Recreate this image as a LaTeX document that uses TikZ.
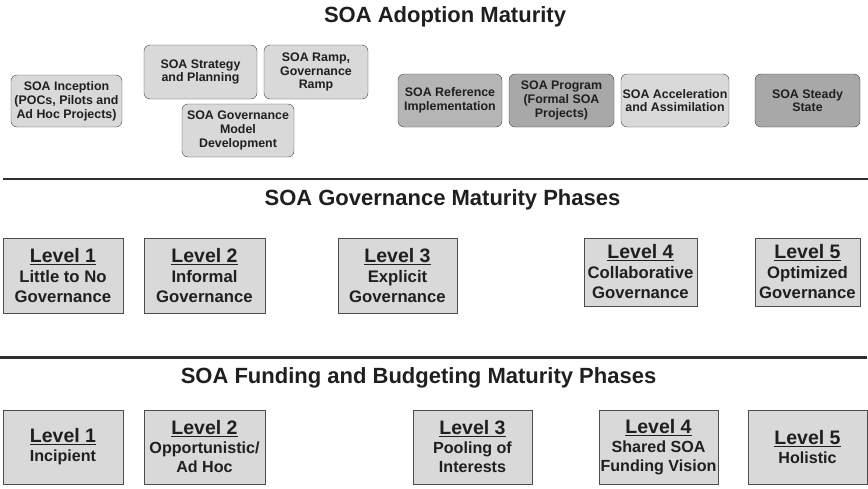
\documentclass[tikz,border=0pt]{standalone}
\usepackage{fontspec}
\setmainfont{Liberation Sans}

\begin{document}
\begin{tikzpicture}
            [x=1pt, y=-1pt, text=black!88,
             stage/.style={draw=black!75, fill=black!15, rounded corners=6pt, align=center, inner sep=1pt,
                           font=\bfseries\fontsize{12.4}{13.8}\selectfont},
             darkstage/.style={stage, fill=black!32},
             level/.style={draw=black!70, fill=black!15, align=center, inner sep=1pt,
                           font=\bfseries\fontsize{16.7}{20}\selectfont},
             fund/.style={level, font=\bfseries\fontsize{16.1}{19}\selectfont},
             heading/.style={font=\bfseries\fontsize{22}{26}\selectfont},
             rule/.style={draw=black!82, line width=2.5pt}]
            \useasboundingbox (0, 0) rectangle (868, 488);

            % adoption maturity
            \node[heading] (adopt) at (445, 17) {SOA Adoption Maturity};
            \node[stage, minimum width=111pt, minimum height=52pt] (incep) at (66.5, 101) {SOA Inception\\(POCs, Pilots and\\Ad Hoc Projects)};
            \node[stage, minimum width=113pt, minimum height=54pt] (strat) at (200.5, 72) {SOA Strategy\\and Planning};
            \node[stage, minimum width=104pt, minimum height=54pt] (ramp) at (316, 72) {SOA Ramp,\\Governance\\Ramp};
            \node[stage, minimum width=112pt, minimum height=53pt] (govmod) at (238, 130.5) {SOA Governance\\Model\\Development};
            \node[darkstage, fill=black!29, minimum width=104pt, minimum height=53pt] (refimpl) at (450, 100.5) {SOA Reference\\Implementation};
            \node[darkstage, fill=black!34, minimum width=105pt, minimum height=53pt] (prog) at (561.5, 100.5) {SOA Program\\(Formal SOA\\Projects)};
            \node[stage, minimum width=108pt, minimum height=53pt] (accel) at (675, 100.5) {SOA Acceleration\\and Assimilation};
            \node[darkstage, fill=black!34, minimum width=105pt, minimum height=53pt] (steady) at (807.5, 100.5) {SOA Steady\\State};

            \draw[rule] (3, 179) -- (868, 179);

            % governance maturity
            \node[heading] (govern) at (442.5, 200) {SOA Governance Maturity Phases};
            \node[level, minimum width=120pt, minimum height=75pt] (g1) at (63, 275.5) {{\fontsize{19.5}{20}\selectfont\underline{Level 1}}\\Little to No\\Governance};
            \node[level, minimum width=121pt, minimum height=75pt] (g2) at (204.5, 275.5) {{\fontsize{19.5}{20}\selectfont\underline{Level 2}}\\Informal\\Governance};
            \node[level, minimum width=119pt, minimum height=75pt] (g3) at (397.5, 275.5) {{\fontsize{19.5}{20}\selectfont\underline{Level 3}}\\Explicit\\Governance};
            \node[level, minimum width=113pt, minimum height=68pt] (g4) at (640.5, 272) {{\fontsize{19.5}{20}\selectfont\underline{Level 4}}\\Collaborative\\Governance};
            \node[level, minimum width=105pt, minimum height=68pt] (g5) at (807.5, 272) {{\fontsize{19.5}{20}\selectfont\underline{Level 5}}\\Optimized\\Governance};

            \draw[rule] (0, 357.5) -- (867, 357.5);

            % funding and budgeting maturity
            \node[heading] (funding) at (418.5, 378) {SOA Funding and Budgeting Maturity Phases};
            \node[fund, minimum width=120pt, minimum height=74pt] (f1) at (63, 447) {{\fontsize{19.5}{19}\selectfont\underline{Level 1}}\\Incipient};
            \node[fund, minimum width=121pt, minimum height=74pt] (f2) at (204.5, 447) {{\fontsize{19.5}{19}\selectfont\underline{Level 2}}\\Opportunistic/\\Ad Hoc};
            \node[fund, minimum width=119pt, minimum height=74pt] (f3) at (472.5, 447) {{\fontsize{19.5}{19}\selectfont\underline{Level 3}}\\Pooling of\\Interests};
            \node[fund, minimum width=119pt, minimum height=74pt] (f4) at (658.5, 447) {{\fontsize{19.5}{19}\selectfont\underline{Level 4}}\\Shared SOA\\Funding Vision};
            \node[fund, minimum width=119pt, minimum height=74pt] (f5) at (807.5, 447) {{\fontsize{19.5}{19}\selectfont\underline{Level 5}}\\Holistic};
        \end{tikzpicture}
\end{document}
